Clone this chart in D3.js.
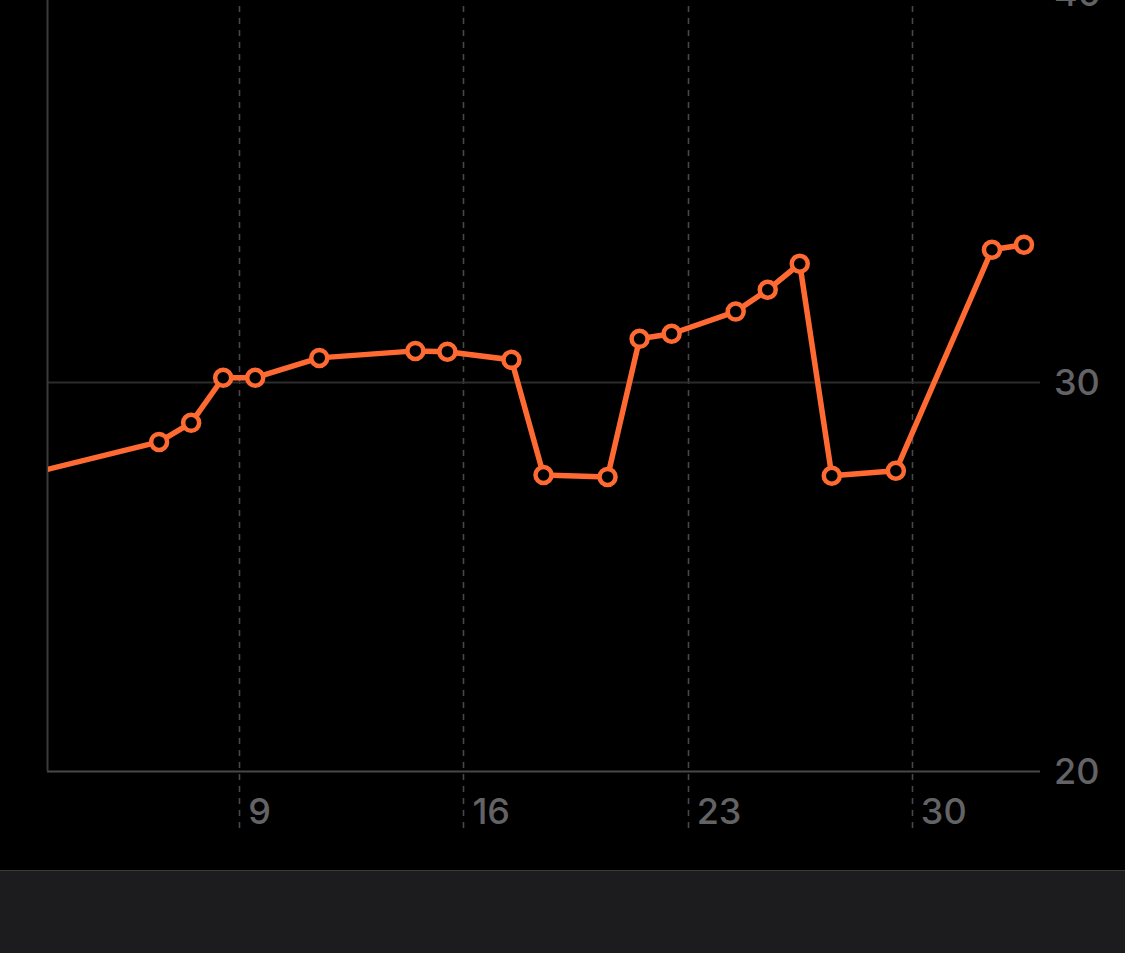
<!DOCTYPE html>
<html>
<head>
<meta charset="utf-8">
<script src="https://cdn.jsdelivr.net/npm/d3@7"></script>
<style>
  html, body { margin: 0; padding: 0; background: #000; }
  svg { display: block; }
</style>
</head>
<body>
<svg id="chart" width="1125" height="953"></svg>
<script>
// Data (day of month, noon sample) and values
const days   = [2, 6, 7, 8, 9, 11, 14, 15, 17, 18, 20, 21, 22, 24, 25, 26, 27, 29, 32, 33];
const values = [27.65, 28.46, 28.95, 30.11, 30.11, 30.62, 30.80, 30.78, 30.57, 27.61, 27.56,
                31.11, 31.24, 31.81, 32.37, 33.04, 27.59, 27.72, 33.40, 33.53];
const xTickDays   = [9, 16, 23, 30];
const xTickLabels = ["9", "16", "23", "30"];
const yTicks      = [20, 30, 40];
const xDomain = [3, 34];
const yDomain = [20, 40];

(function () {
const W = 1125, H = 953;
const mLeft = 47, mRight = 1040, mBottom = 771, mTop = -7;

const svg = d3.select("#chart");
const x = d3.scaleLinear().domain(xDomain).range([mLeft, mRight]);
const y = d3.scaleLinear().domain(yDomain).range([mBottom, mTop]);

const labelColor = "#636366";
const font = "Inter, 'Noto Sans', sans-serif";

// bottom panel
svg.append("rect").attr("x", 0).attr("y", 870).attr("width", W).attr("height", H - 870).attr("fill", "#1c1c1e");
svg.append("line").attr("x1", 0).attr("x2", W).attr("y1", 870.5).attr("y2", 870.5).attr("stroke", "#3a3a3c").attr("stroke-width", 1);

// vertical dashed gridlines
svg.append("g").selectAll("line").data(xTickDays).join("line")
  .attr("x1", d => Math.round(x(d)) + 0.5).attr("x2", d => Math.round(x(d)) + 0.5)
  .attr("y1", 6).attr("y2", 828)
  .attr("stroke", "#48484a").attr("stroke-width", 1.6).attr("stroke-dasharray", "6,6");

// horizontal gridlines
svg.append("g").selectAll("line").data(yTicks.filter(v => v !== 20)).join("line")
  .attr("x1", mLeft).attr("x2", mRight)
  .attr("y1", d => Math.round(y(d)) + 0.5).attr("y2", d => Math.round(y(d)) + 0.5)
  .attr("stroke", "#2c2c2e").attr("stroke-width", 2);

// baseline (20) and left line
svg.append("line").attr("x1", mLeft).attr("x2", mRight)
  .attr("y1", y(20) + 0.5).attr("y2", y(20) + 0.5)
  .attr("stroke", "#48484a").attr("stroke-width", 2);
svg.append("line").attr("x1", mLeft + 0.5).attr("x2", mLeft + 0.5)
  .attr("y1", 0).attr("y2", y(20))
  .attr("stroke", "#3a3a3c").attr("stroke-width", 2);

// y labels (right)
svg.append("g").selectAll("text").data(yTicks).join("text")
  .attr("x", 1054).attr("y", d => y(d))
  .attr("dy", "0.36em")
  .attr("fill", labelColor).attr("font-family", font).attr("font-size", 36).attr("font-weight", 500)
  .text(d => d);

// x labels
svg.append("g").selectAll("text").data(xTickDays).join("text")
  .attr("x", d => x(d) + 9).attr("y", 824)
  .attr("fill", labelColor).attr("font-family", font).attr("font-size", 36).attr("font-weight", 500)
  .text((d, i) => xTickLabels[i]);

// clip
svg.append("clipPath").attr("id", "plotclip").append("rect")
  .attr("x", mLeft + 1).attr("y", 0).attr("width", W - mLeft).attr("height", mBottom);

const pts = days.map((d, i) => ({ d, v: values[i] }));
const line = d3.line().x(p => x(p.d + 0.5)).y(p => y(p.v));
const g = svg.append("g").attr("clip-path", "url(#plotclip)");
const orange = "#ff6a33";
g.append("path").datum(pts).attr("d", line)
  .attr("fill", "none").attr("stroke", orange).attr("stroke-width", 5.5)
  .attr("stroke-linejoin", "round").attr("stroke-linecap", "round");
g.selectAll("circle").data(pts).join("circle")
  .attr("cx", p => x(p.d + 0.5)).attr("cy", p => y(p.v)).attr("r", 8)
  .attr("fill", "#000").attr("stroke", orange).attr("stroke-width", 4.5);
})();
</script>
</body>
</html>
